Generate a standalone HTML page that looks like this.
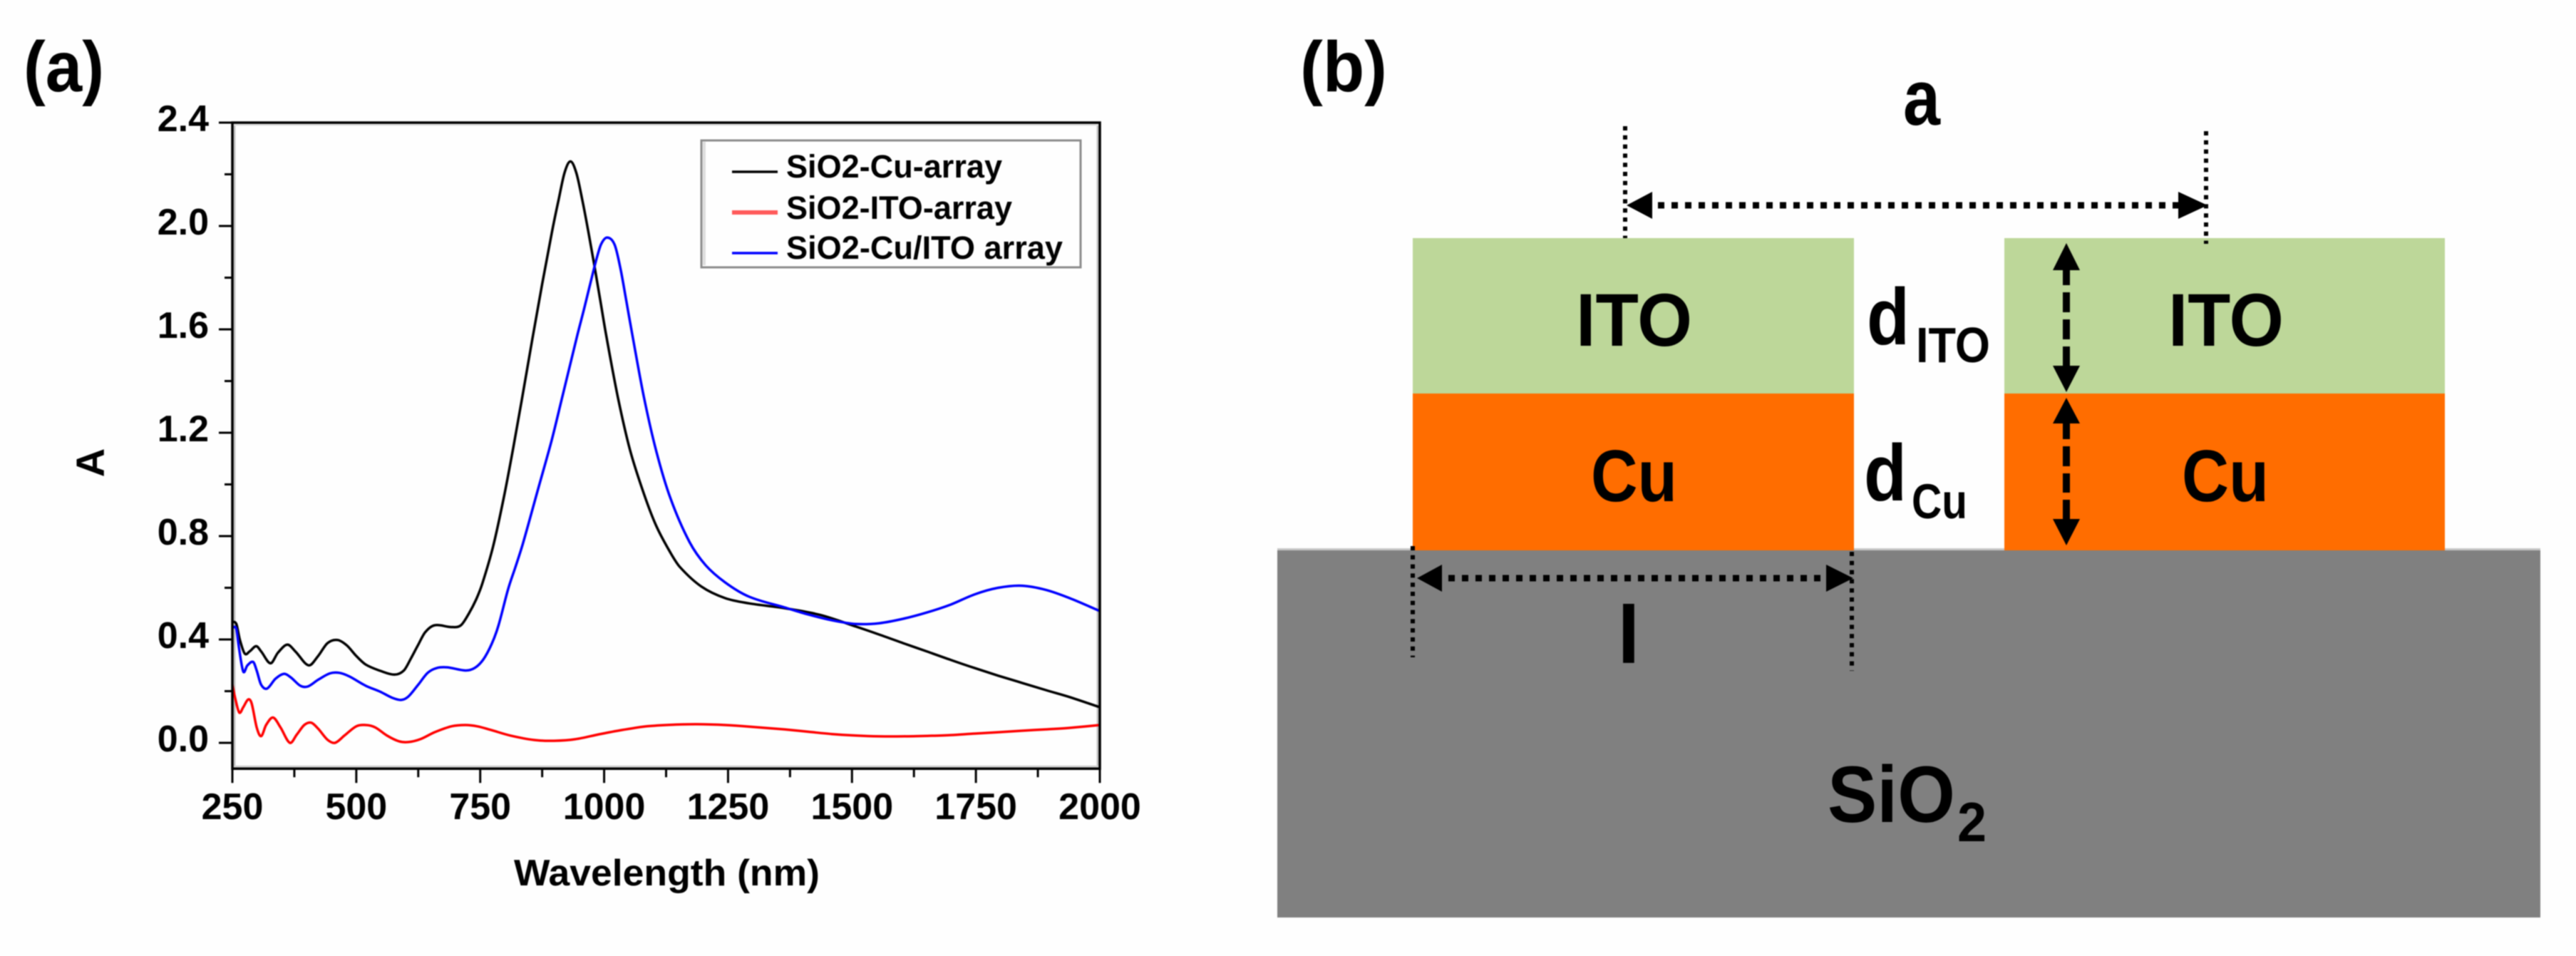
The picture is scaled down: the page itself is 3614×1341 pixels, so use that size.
<!DOCTYPE html>
<html lang="en">
<head>
<meta charset="utf-8">
<title>Absorbance spectra and array structure</title>
<style>
html,body{margin:0;padding:0;background:#fff;}
body{width:3614px;height:1341px;overflow:hidden;}
svg{display:block;filter:blur(0.9px);}
text{font-family:"Liberation Sans",sans-serif;font-weight:bold;fill:#000;}
</style>
</head>
<body>
<svg id="figure" xmlns="http://www.w3.org/2000/svg" width="3614" height="1341" viewBox="0 0 3614 1341">
  <rect x="0" y="0" width="3614" height="1341" fill="#fefefe"/>

  <!-- Panel a -->
  <text x="33" y="128" font-size="100" textLength="113" lengthAdjust="spacingAndGlyphs">(a)</text>
  <g id="chart"></g>

  <g>
    <rect x="986" y="199" width="4" height="173" fill="#ddd"/>
    <rect x="984" y="197" width="532" height="178" fill="none" stroke="#8c8c8c" stroke-width="3"/>
    <line x1="1027" y1="241" x2="1091" y2="241" stroke="#000" stroke-width="3.5"/>
    <text x="1103" y="249" font-size="45" textLength="303" lengthAdjust="spacingAndGlyphs">SiO2-Cu-array</text>
    <line x1="1027" y1="298" x2="1091" y2="298" stroke="#ff5a5a" stroke-width="6"/>
    <text x="1103" y="307" font-size="45" textLength="317" lengthAdjust="spacingAndGlyphs">SiO2-ITO-array</text>
    <line x1="1027" y1="355" x2="1091" y2="355" stroke="#0000ff" stroke-width="3.5"/>
    <text x="1103" y="363" font-size="45" textLength="388" lengthAdjust="spacingAndGlyphs">SiO2-Cu/ITO array</text>
  </g>

  <!-- Panel b -->
  <text x="1824" y="128" font-size="100" textLength="122" lengthAdjust="spacingAndGlyphs">(b)</text>
  <g>
    <rect x="1792" y="769" width="1772" height="4" fill="#c8c8c8"/>
    <rect x="1792" y="772" width="1772" height="515" fill="#808080"/>
    <rect x="1982" y="334" width="619" height="218" fill="#bdd799"/>
    <rect x="1982" y="552" width="619" height="220" fill="#ff6d00"/>
    <rect x="2812" y="334" width="618" height="218" fill="#bdd799"/>
    <rect x="2812" y="552" width="618" height="220" fill="#ff6d00"/>

    <text x="2211" y="485" font-size="105" textLength="163" lengthAdjust="spacingAndGlyphs">ITO</text>
    <text x="3042" y="485" font-size="105" textLength="162" lengthAdjust="spacingAndGlyphs">ITO</text>
    <text x="2232" y="703" font-size="103" textLength="121" lengthAdjust="spacingAndGlyphs">Cu</text>
    <text x="3061" y="703" font-size="103" textLength="122" lengthAdjust="spacingAndGlyphs">Cu</text>

    <text x="2619" y="483" font-size="112" textLength="60" lengthAdjust="spacingAndGlyphs">d</text>
    <text x="2688" y="508" font-size="70" textLength="104" lengthAdjust="spacingAndGlyphs">ITO</text>
    <text x="2615" y="702" font-size="112" textLength="60" lengthAdjust="spacingAndGlyphs">d</text>
    <text x="2682" y="727" font-size="69" textLength="78" lengthAdjust="spacingAndGlyphs">Cu</text>

    <text x="2670" y="175" font-size="110" textLength="52" lengthAdjust="spacingAndGlyphs">a</text>
    <text x="2285" y="930" font-size="114" text-anchor="middle">l</text>
    <text x="2564" y="1153" font-size="112" textLength="179" lengthAdjust="spacingAndGlyphs">SiO</text>
    <text x="2746" y="1180" font-size="78" textLength="41" lengthAdjust="spacingAndGlyphs">2</text>

    <!-- period a dimension -->
    <line x1="2280" y1="177" x2="2280" y2="334" stroke="#000" stroke-width="6" stroke-dasharray="6 6.8"/>
    <line x1="3095" y1="184" x2="3095" y2="342" stroke="#000" stroke-width="6" stroke-dasharray="6 6.8"/>
    <line x1="2326" y1="288" x2="3056" y2="288" stroke="#000" stroke-width="9" stroke-dasharray="9 10"/>
    <polygon points="2282,288 2318,269 2318,307" fill="#000"/>
    <polygon points="3097,288 3056,269 3056,307" fill="#000"/>

    <!-- length l dimension -->
    <line x1="1982" y1="766" x2="1982" y2="922" stroke="#000" stroke-width="6" stroke-dasharray="6 6.8"/>
    <line x1="2598" y1="774" x2="2598" y2="941" stroke="#000" stroke-width="6" stroke-dasharray="6 6.8"/>
    <line x1="2032" y1="811" x2="2562" y2="811" stroke="#000" stroke-width="9" stroke-dasharray="9 10"/>
    <polygon points="1988,811 2023,792 2023,830" fill="#000"/>
    <polygon points="2600,811 2562,792 2562,830" fill="#000"/>

    <!-- thickness d-ITO -->
    <line x1="2899" y1="379" x2="2899" y2="513" stroke="#000" stroke-width="10" stroke-dasharray="21 10 28 10 28 10 27"/>
    <polygon points="2899,341 2880,379 2918,379" fill="#000"/>
    <polygon points="2899,550 2880,513 2918,513" fill="#000"/>

    <!-- thickness d-Cu -->
    <line x1="2899" y1="594" x2="2899" y2="728" stroke="#000" stroke-width="10" stroke-dasharray="22 10 28 10 27 10 27"/>
    <polygon points="2899,558 2880,594 2918,594" fill="#000"/>
    <polygon points="2899,765 2880,728 2918,728" fill="#000"/>
  </g>
</svg>

<script>
// Chart data
const xTickLabels = [250, 500, 750, 1000, 1250, 1500, 1750, 2000];
const xMinorTicks = [375, 625, 875, 1125, 1375, 1625, 1875];
const yTickLabels = ["0.0", "0.4", "0.8", "1.2", "1.6", "2.0", "2.4"];
const yMinorTicks = [0.2, 0.6, 1.0, 1.4, 1.8, 2.2];

const cuWavelengths = [250, 258, 265, 275, 285, 298, 308, 327, 342, 361, 377, 404, 423, 442, 462, 481, 500, 519, 548, 577, 596, 610, 625, 639, 658, 692, 711, 727, 742, 754, 776, 798, 817, 836, 855, 875, 894, 908, 920, 932, 944, 956, 968, 980, 992, 1004, 1028, 1052, 1080, 1105, 1134, 1153, 1196, 1244, 1292, 1364, 1436, 1508, 1555, 1603, 1652, 1699, 1748, 1795, 1843, 1891, 1939, 2000];
const cuValues = [0.469, 0.46, 0.40, 0.345, 0.354, 0.374, 0.354, 0.308, 0.349, 0.38, 0.354, 0.30, 0.336, 0.386, 0.398, 0.377, 0.336, 0.303, 0.279, 0.264, 0.28, 0.326, 0.38, 0.428, 0.455, 0.448, 0.455, 0.50, 0.556, 0.615, 0.76, 0.953, 1.145, 1.35, 1.56, 1.775, 1.97, 2.10, 2.205, 2.25, 2.205, 2.10, 1.98, 1.85, 1.715, 1.578, 1.335, 1.135, 0.965, 0.84, 0.735, 0.68, 0.605, 0.56, 0.54, 0.521, 0.495, 0.45, 0.419, 0.386, 0.353, 0.321, 0.289, 0.26, 0.232, 0.204, 0.177, 0.138];

const itoWavelengths = [250, 256, 264, 272, 282, 289, 299, 308, 318, 332, 347, 366, 380, 395, 409, 423, 442, 457, 476, 500, 519, 538, 562, 586, 605, 629, 658, 692, 720, 744, 773, 811, 859, 899, 942, 990, 1037, 1086, 1138, 1187, 1244, 1292, 1364, 1411, 1460, 1508, 1555, 1603, 1652, 1699, 1748, 1795, 1843, 1891, 1939, 2000];
const itoValues = [0.225, 0.17, 0.117, 0.138, 0.168, 0.152, 0.06, 0.026, 0.069, 0.098, 0.06, 0.0, 0.032, 0.069, 0.078, 0.055, 0.012, 0.0, 0.028, 0.064, 0.069, 0.06, 0.028, 0.006, 0.003, 0.014, 0.041, 0.064, 0.069, 0.064, 0.049, 0.028, 0.011, 0.008, 0.014, 0.033, 0.05, 0.064, 0.07, 0.072, 0.069, 0.063, 0.052, 0.043, 0.034, 0.028, 0.025, 0.025, 0.027, 0.03, 0.036, 0.041, 0.047, 0.052, 0.058, 0.069];

const cuItoWavelengths = [250, 258, 263, 272, 280, 292, 299, 308, 320, 337, 354, 368, 387, 402, 423, 447, 466, 486, 519, 548, 572, 591, 605, 625, 644, 663, 684, 720, 739, 756, 773, 787, 806, 821, 836, 865, 894, 917, 946, 961, 975, 985, 994, 1006, 1021, 1033, 1045, 1057, 1080, 1105, 1134, 1172, 1205, 1244, 1292, 1364, 1411, 1460, 1508, 1555, 1603, 1652, 1699, 1748, 1795, 1843, 1891, 1939, 2000];
const cuItoValues = [0.446, 0.441, 0.372, 0.276, 0.299, 0.313, 0.28, 0.225, 0.21, 0.248, 0.267, 0.253, 0.221, 0.218, 0.244, 0.269, 0.271, 0.257, 0.221, 0.198, 0.175, 0.166, 0.179, 0.225, 0.271, 0.29, 0.292, 0.28, 0.29, 0.322, 0.382, 0.455, 0.593, 0.68, 0.77, 0.97, 1.17, 1.35, 1.578, 1.69, 1.80, 1.875, 1.93, 1.955, 1.928, 1.835, 1.707, 1.578, 1.34, 1.13, 0.945, 0.778, 0.687, 0.621, 0.566, 0.524, 0.497, 0.474, 0.46, 0.463, 0.48, 0.505, 0.535, 0.575, 0.600, 0.608, 0.592, 0.56, 0.51];

const SVGNS = "http://www.w3.org/2000/svg";
const chart = document.getElementById("chart");

// Axis functions
function xScale(nm) { return 326 + (nm - 250) * (1543 - 326) / (2000 - 250); }
function yScale(v) { return 1042 - v * (1042 - 172) / 2.4; }

function makeLine(x1, y1, x2, y2, color, width) {
  const el = document.createElementNS(SVGNS, "line");
  el.setAttribute("x1", x1);
  el.setAttribute("y1", y1);
  el.setAttribute("x2", x2);
  el.setAttribute("y2", y2);
  el.setAttribute("stroke", color);
  el.setAttribute("stroke-width", width);
  chart.appendChild(el);
  return el;
}

function makeText(x, y, str, size, anchor) {
  const el = document.createElementNS(SVGNS, "text");
  el.setAttribute("x", x);
  el.setAttribute("y", y);
  el.setAttribute("font-size", size);
  el.setAttribute("text-anchor", anchor);
  el.textContent = str;
  chart.appendChild(el);
  return el;
}

// Smooth curve through the read points; tangents account for uneven x spacing
function curvePath(xs, ys) {
  const px = xs.map(xScale);
  const py = ys.map(yScale);
  const n = px.length;
  const slope = px.map(function (x, i) {
    const a = Math.max(i - 1, 0);
    const b = Math.min(i + 1, n - 1);
    return (py[b] - py[a]) / (px[b] - px[a]);
  });
  let d = "M" + px[0].toFixed(1) + " " + py[0].toFixed(1);
  for (let i = 0; i < n - 1; i++) {
    const dx = (px[i + 1] - px[i]) / 3;
    d += "C" + (px[i] + dx).toFixed(1) + " " + (py[i] + slope[i] * dx).toFixed(1) + " " +
         (px[i + 1] - dx).toFixed(1) + " " + (py[i + 1] - slope[i + 1] * dx).toFixed(1) + " " +
         px[i + 1].toFixed(1) + " " + py[i + 1].toFixed(1);
  }
  return d;
}

// Plot area bounds
const plotLeft = xScale(250);
const plotRight = xScale(2000);
const plotTop = yScale(2.4);
const plotBottom = yScale(-0.1);

// Inner soft edges along the axes
const innerLeft = makeLine(plotLeft + 3, plotTop, plotLeft + 3, plotBottom, "#c4c4c4", 3);


const innerRight = makeLine(plotRight - 3, plotTop, plotRight - 3, plotBottom, "#c4c4c4", 3);


const innerTop = makeLine(plotLeft, plotTop + 3, plotRight, plotTop + 3, "#e0e0e0", 3);


const innerBottom = makeLine(plotLeft, plotBottom - 3, plotRight, plotBottom - 3, "#d0d0d0", 3);



// Series
const cuLine = document.createElementNS(SVGNS, "path");
cuLine.setAttribute("d", curvePath(cuWavelengths, cuValues));
cuLine.setAttribute("fill", "none");
cuLine.setAttribute("stroke", "#000");
cuLine.setAttribute("stroke-width", "3.5");


chart.appendChild(cuLine);

const itoLine = document.createElementNS(SVGNS, "path");
itoLine.setAttribute("d", curvePath(itoWavelengths, itoValues));
itoLine.setAttribute("fill", "none");
itoLine.setAttribute("stroke", "#ff0000");
itoLine.setAttribute("stroke-width", "3.5");


chart.appendChild(itoLine);

const cuItoLine = document.createElementNS(SVGNS, "path");
cuItoLine.setAttribute("d", curvePath(cuItoWavelengths, cuItoValues));
cuItoLine.setAttribute("fill", "none");
cuItoLine.setAttribute("stroke", "#0000ff");
cuItoLine.setAttribute("stroke-width", "3.5");


chart.appendChild(cuItoLine);

// Plot frame
const frame = document.createElementNS(SVGNS, "rect");
frame.setAttribute("x", plotLeft);
frame.setAttribute("y", plotTop);
frame.setAttribute("width", plotRight - plotLeft);
frame.setAttribute("height", plotBottom - plotTop);
frame.setAttribute("fill", "none");
frame.setAttribute("stroke", "#000");
frame.setAttribute("stroke-width", "3.5");


chart.appendChild(frame);

// X axis ticks and labels
xTickLabels.forEach(function (nm) {
  const tick = makeLine(xScale(nm), plotBottom, xScale(nm), plotBottom + 20, "#000", 3);
  
  
  const label = makeText(xScale(nm), 1149, String(nm), 52, "middle");
  
  
});
xMinorTicks.forEach(function (nm) {
  const tick = makeLine(xScale(nm), plotBottom, xScale(nm), plotBottom + 12, "#000", 3);
  
  
});

// Y axis ticks and labels
yTickLabels.forEach(function (str) {
  const v = parseFloat(str);
  const tick = makeLine(plotLeft - 19, yScale(v), plotLeft, yScale(v), "#000", 3);
  
  
  const label = makeText(293, yScale(v) + 12, str, 52, "end");
  
  
});
yMinorTicks.forEach(function (v) {
  const tick = makeLine(plotLeft - 11, yScale(v), plotLeft, yScale(v), "#000", 3);
  
  
});

// Axis titles
const xTitle = makeText(721, 1242, "Wavelength (nm)", 52, "start");
xTitle.setAttribute("textLength", "429");
xTitle.setAttribute("lengthAdjust", "spacingAndGlyphs");



const yTitle = makeText(0, 0, "A", 56, "middle");
yTitle.setAttribute("transform", "translate(146 649) rotate(-90)");


</script>
</body>
</html>
